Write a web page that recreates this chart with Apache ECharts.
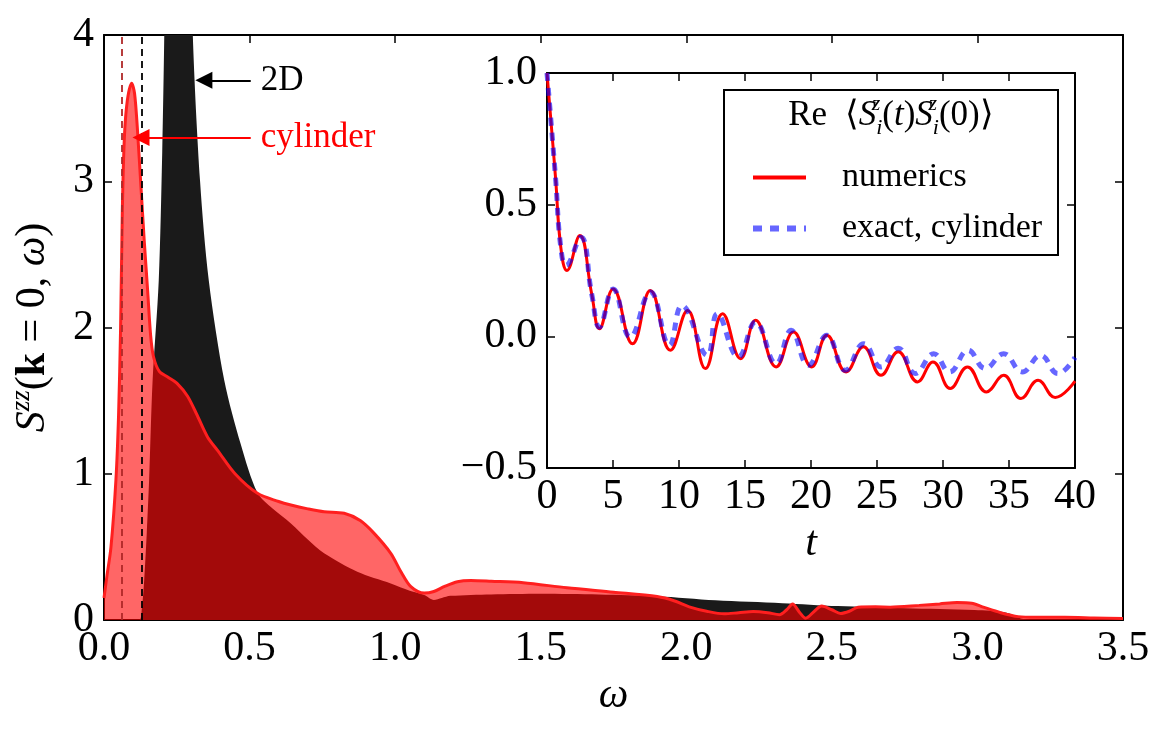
<!DOCTYPE html>
<html>
<head>
<meta charset="utf-8">
<script src="https://cdn.jsdelivr.net/npm/echarts@6/dist/echarts.min.js"></script>
<style>
  html, body { margin: 0; padding: 0; background: #fff; }
  #main { width: 1167px; height: 740px; }
</style>
</head>
<body>
<div id="main"></div>
<script>
// main panel: S^zz(k=0, omega)
const omega2D = [0, 0.12, 0.13, 0.138, 0.147, 0.155, 0.167, 0.188, 0.2, 0.207, 0.22, 0.25, 0.28, 0.305, 0.33, 0.36, 0.413, 0.47, 0.527, 0.58, 0.642, 0.7, 0.756, 0.87, 0.985, 1.05, 1.1, 1.133, 1.16, 1.19, 1.33, 1.5, 1.7, 1.9, 2.1, 2.33, 2.52, 2.75, 2.99, 3.1, 3.15, 3.2, 3.5];
const s2D = [0, 0, 0.08, 0.27, 0.6, 0.96, 1.64, 2.32, 3.2, 4.0, 6.0, 8.0, 6.0, 4.0, 3.0, 2.32, 1.64, 1.2, 0.87, 0.76, 0.66, 0.55, 0.456, 0.33, 0.25, 0.2, 0.171, 0.137, 0.15, 0.165, 0.175, 0.18, 0.175, 0.163, 0.135, 0.115, 0.095, 0.08, 0.068, 0.05, 0.01, 0, 0];

const omegaCyl = [0, 0.01, 0.024, 0.041, 0.05, 0.057, 0.063, 0.07, 0.08, 0.095, 0.105, 0.115, 0.127, 0.138, 0.15, 0.16, 0.17, 0.19, 0.22, 0.25, 0.287, 0.32, 0.356, 0.39, 0.45, 0.527, 0.6, 0.642, 0.7, 0.756, 0.825, 0.88, 0.927, 0.985, 1.02, 1.054, 1.1, 1.133, 1.17, 1.214, 1.26, 1.33, 1.44, 1.59, 1.75, 1.9, 1.96, 2.01, 2.07, 2.13, 2.18, 2.23, 2.28, 2.32, 2.345, 2.365, 2.39, 2.41, 2.44, 2.465, 2.5, 2.53, 2.56, 2.59, 2.65, 2.7, 2.8, 2.87, 2.93, 2.98, 3.02, 3.08, 3.14, 3.2, 3.3, 3.4, 3.5];
const sCyl = [0.15, 0.3, 0.5, 0.96, 1.4, 2.0, 2.8, 3.3, 3.55, 3.67, 3.6, 3.35, 2.96, 2.6, 2.25, 1.95, 1.8, 1.7, 1.66, 1.62, 1.53, 1.4, 1.25, 1.16, 1.0, 0.866, 0.81, 0.786, 0.76, 0.74, 0.73, 0.68, 0.594, 0.456, 0.33, 0.228, 0.184, 0.195, 0.23, 0.262, 0.27, 0.265, 0.255, 0.22, 0.19, 0.16, 0.13, 0.09, 0.06, 0.042, 0.05, 0.058, 0.05, 0.036, 0.07, 0.109, 0.05, 0.012, 0.06, 0.095, 0.07, 0.045, 0.06, 0.088, 0.09, 0.088, 0.1, 0.11, 0.12, 0.115, 0.088, 0.05, 0.023, 0.018, 0.018, 0.014, 0.01];

const gapCyl = 0.062;
const gap2D = 0.133;

// inset: Re <S_i^z(t) S_i^z(0)>
const tNum = [0, 0.65, 1.04, 1.51, 2.48, 3.39, 3.97, 5.01, 6.48, 7.83, 9.35, 10.65, 12.0, 13.3, 14.67, 15.8, 17.36, 18.67, 20.05, 21.2, 22.66, 23.97, 25.3, 26.6, 28.07, 29.24, 30.55, 31.85, 33.29, 34.6, 35.9, 37.2, 38.5, 40];
const cNum = [1.0, 0.6, 0.34, 0.25, 0.383, 0.16, 0.029, 0.18, -0.028, 0.174, -0.053, 0.098, -0.122, 0.086, -0.085, 0.061, -0.116, 0.016, -0.116, 0.004, -0.135, -0.04, -0.148, -0.059, -0.173, -0.097, -0.198, -0.116, -0.211, -0.148, -0.236, -0.167, -0.232, -0.17];

const tExact = [0, 0.65, 1.04, 1.44, 2.56, 3.39, 3.97, 5.01, 6.3, 7.83, 9.27, 10.23, 12.14, 12.9, 14.5, 15.8, 17.36, 18.5, 19.8, 21.2, 22.6, 24.0, 25.3, 26.6, 27.9, 29.3, 30.5, 31.9, 33.2, 34.6, 36.0, 37.4, 38.7, 40];
const cExact = [1.0, 0.6, 0.34, 0.27, 0.376, 0.16, 0.035, 0.18, -0.003, 0.168, -0.034, 0.117, -0.072, 0.086, -0.078, 0.054, -0.104, 0.023, -0.11, 0.004, -0.129, -0.028, -0.116, -0.045, -0.141, -0.066, -0.135, -0.053, -0.122, -0.066, -0.135, -0.072, -0.141, -0.08];

const pairs = (xs, ys) => xs.map((x, i) => [x, ys[i]]);

const FONT = 'Liberation Serif';
const TICK = 42;

const richMath = {
  n: { fontFamily: FONT, fontSize: TICK, lineHeight: 50, fontStyle: 'normal', color: '#000' },
  it: { fontFamily: FONT, fontSize: TICK, lineHeight: 50, fontStyle: 'italic', color: '#000' },
  b: { fontFamily: FONT, fontSize: TICK, lineHeight: 50, fontWeight: 'bold', color: '#000' },
  sup: { fontFamily: FONT, fontSize: 27, lineHeight: 30, fontStyle: 'italic', verticalAlign: 'top', color: '#000' }
};
// plain serif text goes through rich so that the family sticks
const richTick = { s: { fontFamily: FONT, fontSize: TICK, fontStyle: 'normal', color: '#000' } };
const richLegend = { s: { fontFamily: FONT, fontSize: 34, fontStyle: 'normal', color: '#000' } };

function frameAxes(grid, min, max, interval, fmt, isX) {
  const base = {
    gridIndex: grid, type: 'value', min: min, max: max, interval: interval,
    splitLine: { show: false },
    axisLine: { onZero: false, lineStyle: { color: '#000', width: 2 } },
    axisTick: { inside: true, length: 8, lineStyle: { color: '#000', width: 1.5 } }
  };
  const first = Object.assign({}, base, {
    position: isX ? 'bottom' : 'left',
    axisLabel: {
      fontFamily: FONT, fontSize: TICK, color: '#000',
      margin: isX ? 8 : 10,
      formatter: v => '{s|' + fmt(v) + '}',
      rich: richTick
    }
  });
  const second = Object.assign({}, base, {
    position: isX ? 'top' : 'right',
    axisLabel: { show: false }
  });
  return [first, second];
}

const minus = v => (v < 0 ? '\u2212' + Math.abs(v).toFixed(1) : v.toFixed(1));

const mainX = frameAxes(0, 0, 3.5, 0.5, v => v.toFixed(1), true);
const mainY = frameAxes(0, 0, 4, 1, v => String(v), false);
const insetX = frameAxes(1, 0, 40, 5, v => String(v), true);
const insetY = frameAxes(1, -0.5, 1.0, 0.5, minus, false);

mainX[0].name = 'ω';
mainX[0].nameLocation = 'middle';
mainX[0].nameGap = 46;
mainX[0].nameTextStyle = { fontFamily: FONT, fontSize: TICK, fontStyle: 'italic', color: '#000' };

mainY[0].name = '{it|S}{sup|zz}{n|(}{b|k}{n| = 0, }{it|ω}{n|)}';
mainY[0].nameLocation = 'middle';
mainY[0].nameGap = 46;
mainY[0].nameTextStyle = { rich: richMath };

insetX[0].name = 't';
insetX[0].nameLocation = 'middle';
insetX[0].nameGap = 54;
insetX[0].nameTextStyle = { fontFamily: FONT, fontSize: TICK, fontStyle: 'italic', color: '#000' };

const arrowLabel = (text, color) => ({
  show: true, position: 'start', formatter: text, distance: 10,
  color: color, fontFamily: FONT, fontStyle: 'normal', fontWeight: 'normal', fontSize: 35
});

let myChart = echarts.init(document.getElementById('main'));

let option = {
  backgroundColor: '#fff',
  animation: false,
  textStyle: { fontFamily: FONT },
  grid: [
    { left: 103, top: 35, width: 1020, height: 585 },
    { left: 547, top: 73, width: 528, height: 395, show: true, backgroundColor: '#fff', borderWidth: 0 }
  ],
  xAxis: [mainX[0], mainX[1], insetX[0], insetX[1]],
  yAxis: [mainY[0], mainY[1], insetY[0], insetY[1]],
  legend: {
    data: [
      { name: 'numerics', lineStyle: { color: '#ff0000', width: 4, type: 'solid' } },
      { name: 'exact, cylinder', lineStyle: { color: 'rgba(0,0,255,0.6)', width: 6, type: [9, 8], cap: 'butt' } }
    ],
    orient: 'vertical',
    left: 745,
    top: 152,
    itemWidth: 53,
    itemHeight: 14,
    itemGap: 10,
    itemStyle: { opacity: 0 },
    formatter: name => '{s|' + name + '}',
    textStyle: { fontFamily: FONT, fontSize: 34, color: '#000', lineHeight: 41, padding: [0, 0, 0, 31], rich: richLegend },
    selectedMode: false
  },
  graphic: [
    {
      type: 'rect', z: 0,
      shape: { x: 724, y: 90, width: 334, height: 165 },
      style: { fill: '#fff', stroke: '#000', lineWidth: 2 }
    },
    {
      type: 'text', z: 1,
      x: 891, y: 116,
      style: {
        text: '{n|Re  \u27e8}{it|S}{sup|z}{sub|i}{n|(}{it|t}{n|)}{it|S}{sup|z}{sub|i}{n|(0)\u27e9}',
        align: 'center', verticalAlign: 'middle',
        rich: {
          n: { fontFamily: FONT, fontSize: 35, lineHeight: 46, fill: '#000' },
          it: { fontFamily: FONT, fontSize: 35, lineHeight: 46, fontStyle: 'italic', fill: '#000' },
          sup: { fontFamily: FONT, fontSize: 22, lineHeight: 25, width: 0, fontStyle: 'italic', verticalAlign: 'top', fill: '#000' },
          sub: { fontFamily: FONT, fontSize: 22, lineHeight: 21, fontStyle: 'italic', verticalAlign: 'bottom', fill: '#000' }
        }
      }
    }
  ],
  series: [
    {
      name: '2D',
      type: 'line',
      xAxisIndex: 0, yAxisIndex: 0,
      data: pairs(omega2D, s2D),
      smooth: 0.3,
      symbol: 'none',
      lineStyle: { width: 0 },
      areaStyle: { color: '#1a1a1a', opacity: 1 },
      z: 1
    },
    {
      name: 'cylinder',
      type: 'line',
      xAxisIndex: 0, yAxisIndex: 0,
      data: pairs(omegaCyl, sCyl),
      smooth: 0.3,
      symbol: 'none',
      lineStyle: { color: '#ff1f1f', width: 3 },
      areaStyle: { color: 'rgba(255,0,0,0.6)', opacity: 1 },
      z: 2,
      markLine: {
        silent: true,
        symbol: 'none',
        animation: false,
        data: [
          { xAxis: gapCyl, lineStyle: { color: '#b02828', type: [7, 5], width: 1.8 } },
          { xAxis: gap2D, lineStyle: { color: '#000', type: [7, 5], width: 1.8 } },
          [
            { coord: [0.504, 3.69], symbol: 'none', lineStyle: { color: '#000', type: 'solid', width: 2 },
              label: arrowLabel('2D', '#000') },
            { coord: [0.343, 3.69], symbol: 'triangle', symbolSize: [17, 17], symbolRotate: 90 }
          ],
          [
            { coord: [0.504, 3.30], symbol: 'none', lineStyle: { color: '#ff0000', type: 'solid', width: 2 },
              label: arrowLabel('cylinder', '#ff0000') },
            { coord: [0.127, 3.30], symbol: 'triangle', symbolSize: [17, 17], symbolRotate: 90 }
          ]
        ],
        label: { show: false }
      }
    },
    {
      name: 'numerics',
      type: 'line',
      xAxisIndex: 2, yAxisIndex: 2,
      data: pairs(tNum, cNum),
      smooth: 0.45,
      symbol: 'none',
      color: '#ff0000',
      lineStyle: { color: '#ff0000', width: 3 },
      z: 5
    },
    {
      name: 'exact, cylinder',
      type: 'line',
      xAxisIndex: 2, yAxisIndex: 2,
      data: pairs(tExact, cExact),
      smooth: 0.45,
      symbol: 'none',
      color: 'rgba(0,0,255,0.6)',
      lineStyle: { color: 'rgba(0,0,255,0.6)', width: 5, type: [8, 7], cap: 'butt' },
      z: 6
    }
  ]
};

myChart.setOption(option);
</script>
</body>
</html>
